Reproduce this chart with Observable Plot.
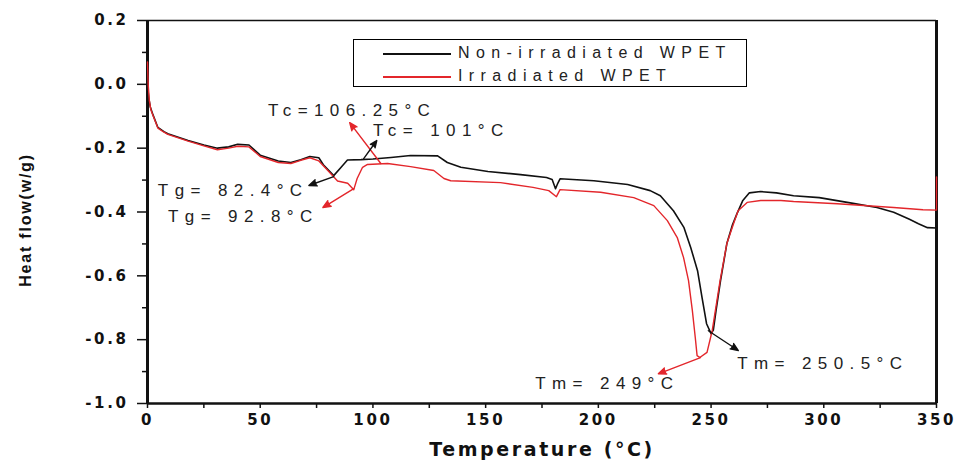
<!DOCTYPE html>
<html><head><meta charset="utf-8">
<script src="https://cdn.jsdelivr.net/npm/d3@7"></script>
<script src="https://cdn.jsdelivr.net/npm/@observablehq/plot@0.6"></script>
<style>
body{margin:0;background:#fff;font-family:"Liberation Sans",Arial,sans-serif;}
#wrap{position:relative;width:963px;height:466px;}
#legend{position:absolute;left:353px;top:39px;width:392px;height:46px;border:1.5px solid #000;background:#fff;}
#legend .sw{position:absolute;left:29px;width:68px;height:0;}
#legend .lab{position:absolute;left:104px;font-size:16px;letter-spacing:6.4px;white-space:nowrap;color:#222;line-height:20px;}
</style></head>
<body>
<div id="wrap"></div>
<script>
// Non-irradiated WPET (black)
const tempBlack = [0,0.5,1.2,2.4,4.6,7.3,9,18,25,31,36,40,45,50,58,63.6,68,72,76,78,82.6,85.6,88.7,94.7,100,108,116.7,128.7,133,139,151,165.5,177,179.5,181,182,183,198,213,223,227.5,233.3,238,241,244,246,248,250,251,252.2,254.2,257,259.5,261.5,264,267,272,279,286.6,298,313,323.6,331,338,342,346,350];
const flowBlack = [0.0,-0.04,-0.07,-0.095,-0.135,-0.148,-0.155,-0.176,-0.19,-0.2,-0.196,-0.188,-0.19,-0.222,-0.24,-0.245,-0.236,-0.226,-0.23,-0.252,-0.286,-0.262,-0.237,-0.236,-0.234,-0.229,-0.223,-0.224,-0.245,-0.26,-0.273,-0.283,-0.292,-0.298,-0.327,-0.31,-0.296,-0.302,-0.314,-0.333,-0.349,-0.396,-0.449,-0.512,-0.584,-0.668,-0.75,-0.781,-0.77,-0.709,-0.615,-0.499,-0.44,-0.405,-0.365,-0.34,-0.336,-0.34,-0.349,-0.355,-0.373,-0.386,-0.401,-0.423,-0.437,-0.449,-0.45];
// Irradiated WPET (red)
const tempRed = [0,0.3,0.8,1.5,2.4,4.6,7.3,9,18,25,31,36,40,45,50,58,63.6,68,72,76,80,84.3,88.8,91.5,93,95.4,97.6,106.5,116.7,127,131.5,134.5,156.6,171,178,181.4,183,201,215.7,224.6,230.6,235,237.8,240,241.7,243,243.8,245,248.2,250.5,251.9,254,257,260,262,266,272,281,286.6,306,331,344,350,350];
const flowRed = [0.07,0.0,-0.05,-0.08,-0.097,-0.137,-0.15,-0.157,-0.178,-0.193,-0.205,-0.2,-0.194,-0.196,-0.226,-0.245,-0.248,-0.238,-0.23,-0.24,-0.27,-0.303,-0.31,-0.33,-0.295,-0.26,-0.251,-0.248,-0.258,-0.27,-0.295,-0.302,-0.308,-0.323,-0.333,-0.352,-0.33,-0.338,-0.355,-0.38,-0.427,-0.48,-0.543,-0.615,-0.709,-0.794,-0.85,-0.856,-0.84,-0.772,-0.709,-0.615,-0.499,-0.436,-0.396,-0.37,-0.364,-0.364,-0.367,-0.374,-0.386,-0.393,-0.394,-0.29];

const seriesNames = ["Non-irradiated WPET","Irradiated WPET"];
const seriesColors = ["#111111","#e3262b"];

const xTicks = [0,50,100,150,200,250,300,350];
const xMinor = [25,75,125,175,225,275,325];
const yTicks = [-1.0,-0.8,-0.6,-0.4,-0.2,0.0,0.2];
const yMinor = [-0.9,-0.7,-0.5,-0.3,-0.1,0.1];

// annotations: text, left x, y (data units); arrows from curve to label
const annText = ["Tc=106.25°C","Tc= 101°C","Tg= 82.4°C","Tg= 92.8°C","Tm= 250.5°C","Tm= 249°C"];
const annX = [53.4,100.0,4.6,9.1,261.6,172.0];
const annY = [-0.082,-0.145,-0.333,-0.414,-0.875,-0.938];
const arrX1 = [103.5,95.9,82.6,91.5,248.8,245.3];
const arrY1 = [-0.248,-0.233,-0.289,-0.327,-0.772,-0.856];
const arrX2 = [89.7,101.7,71.6,77.8,262.1,226.6];
const arrY2 = [-0.12,-0.176,-0.317,-0.386,-0.834,-0.907];
const arrColor = ["#e3262b","#111111","#111111","#e3262b","#111111","#e3262b"];

const black = tempBlack.map((t,i)=>({t, v:flowBlack[i]}));
const red = tempRed.map((t,i)=>({t, v:flowRed[i]}));
const ann = annText.map((s,i)=>({s, x:annX[i], y:annY[i]}));
const arrows = arrX1.map((x,i)=>({x1:x,y1:arrY1[i],x2:arrX2[i],y2:arrY2[i],c:arrColor[i]}));

const tickFont = '"DejaVu Sans", sans-serif';
const chart = Plot.plot({
  width: 963, height: 466,
  marginLeft: 147, marginRight: 27, marginTop: 20, marginBottom: 63,
  style: {fontFamily: '"Liberation Sans", Arial, sans-serif', color:"#111", background:"#fff"},
  x: {domain:[0,350]},
  y: {domain:[-1.0,0.2]},
  marks: [
    Plot.axisX({ticks: xTicks, tickSize: 5, tickPadding: 6, tickFormat: d=>String(d), fontSize: 15, fontWeight: "bold", fontFamily: tickFont, label: null, strokeWidth: 1.5}),
    Plot.axisX({ticks: xMinor, tickSize: 5, text: null, label: null, strokeWidth: 1.5}),
    Plot.axisY({ticks: yTicks, tickSize: 10, tickPadding: 9, tickFormat: d=>d.toFixed(1), fontSize: 15, fontWeight: "bold", fontFamily: tickFont, label: null, strokeWidth: 1.5}),
    Plot.axisY({ticks: yMinor, tickSize: 5, text: null, label: null, strokeWidth: 1.5}),
    Plot.ruleY([0.2], {stroke:"#111", strokeWidth: 1.5}),
    Plot.ruleY([-1.0], {stroke:"#111", strokeWidth: 2.5}),
    Plot.ruleX([0], {stroke:"#111", strokeWidth: 3}),
    Plot.ruleX([350], {stroke:"#111", strokeWidth: 3}),
    Plot.line(black, {x:"t", y:"v", stroke: seriesColors[0], strokeWidth: 1.6}),
    Plot.line(red, {x:"t", y:"v", stroke: seriesColors[1], strokeWidth: 1.4}),
    Plot.arrow(arrows, {x1:"x1", y1:"y1", x2:"x2", y2:"y2", stroke:"c", strokeWidth: 1.4, headLength: 9, headAngle: 45}),
    Plot.text(ann, {x:"x", y:"y", text:"s", textAnchor:"start", fontSize: 17, fill:"#222"}),
    Plot.text(["Temperature (°C)"], {frameAnchor:"bottom", dy: 52, fontSize: 19, fontWeight: "bold", fontFamily: tickFont, fill:"#111"}),
    Plot.text(["Heat flow(w/g)"], {frameAnchor:"left", textAnchor:"middle", rotate: -90, dx: -122, dy: 8, fontSize: 16, fontWeight: "bold", fill:"#111"})
  ]
});
// letter spacing on texts
d3.select(chart).selectAll("text").each(function(){
  const t = this.textContent;
  if (t === "Temperature (°C)") this.style.letterSpacing = "2.6px";
  else if (t === "Heat flow(w/g)") this.style.letterSpacing = "1.8px";
  else if (annText.includes(t)) this.style.letterSpacing = "6.4px";
  else if (/^-?\d/.test(t)) this.style.letterSpacing = "2.6px";
});
// filled arrowheads
d3.select(chart).selectAll('g[aria-label="arrow"] path').each(function(){
  const s = this.getAttribute("stroke") || d3.select(this.parentNode).attr("stroke");
  if (s) this.setAttribute("fill", s);
});
const wrap = document.getElementById("wrap");
wrap.appendChild(chart);

const leg = document.createElement("div");
leg.id = "legend";
seriesNames.forEach((name,i)=>{
  const top = i===0 ? 3 : 26;
  const sw = document.createElement("div");
  sw.className = "sw";
  sw.style.top = (top+10)+"px";
  sw.style.borderTop = "2px solid " + seriesColors[i];
  const lab = document.createElement("div");
  lab.className = "lab";
  lab.style.top = top+"px";
  lab.textContent = name;
  leg.appendChild(sw); leg.appendChild(lab);
});
wrap.appendChild(leg);
</script>
</body></html>
